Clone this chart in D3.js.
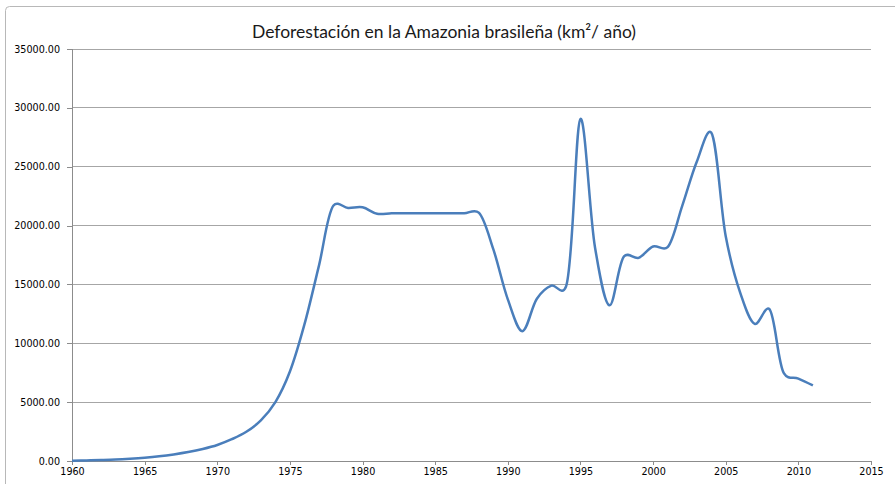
<!DOCTYPE html>
<html>
<head>
<meta charset="utf-8">
<script src="https://cdn.jsdelivr.net/npm/d3@7"></script>
<style>
  body { margin: 0; background: #fff; }
  svg { display: block; }
  .axis path, .axis line { stroke: #8c8c8c; shape-rendering: crispEdges; }
  .axis text { font-family: "DejaVu Sans", Verdana, sans-serif; font-size: 9.6px; fill: #000; }
  .grid line { stroke: #a6a6a6; shape-rendering: crispEdges; }
</style>
</head>
<body>
<svg id="chart" width="895" height="484"></svg>
<script>
// Deforestacion anual (km2)
const years = d3.range(1960, 2012);
const values = [
  30, 50, 80, 120, 190, 280, 400, 560, 760, 1020,
  1360, 1850, 2480, 3450, 5000, 7600, 11600, 16600, 21700, 21500,
  21550, 21000, 21050, 21050, 21050, 21050, 21050, 21050, 21100, 18000,
  13730, 11030, 13786, 14896, 14800, 29059, 18161, 13227, 17383, 17259,
  18226, 18165, 21651, 25396, 27900, 19100, 14286, 11651, 12911, 7464,
  7000, 6418
];
const xTicks = d3.range(1960, 2016, 5);
const yTicks = d3.range(0, 35001, 5000);
const title = 'Deforestación en la Amazonia brasileña (km²/ año)';

const data = years.map((y, i) => ({ year: y, value: values[i] }));

const svg = d3.select('#chart');
const margin = { top: 49, right: 24, bottom: 23, left: 72 };
const width = 895 - margin.left - margin.right;
const height = 484 - margin.top - margin.bottom;

// Rahmen
svg.append('rect')
    .attr('x', 5.5).attr('y', 6.5)
    .attr('width', 900).attr('height', 500)
    .attr('rx', 4)
    .attr('fill', 'none')
    .attr('stroke', '#b8b8b8');

// Titel
svg.append('text')
    .attr('x', 444)
    .attr('y', 38)
    .attr('text-anchor', 'middle')
    .style('font-family', 'Lato, "Open Sans", sans-serif')
    .style('font-size', '17.5px')
    .style('fill', '#1a1a1a')
    .text(title);

const g = svg.append('g')
    .attr('transform', `translate(${margin.left},${margin.top})`);

const xScale = d3.scaleLinear().domain([1960, 2015]).range([0, width]);
const yScale = d3.scaleLinear().domain([0, 35000]).range([height, 0]);

// Gitternetz
g.append('g')
    .attr('class', 'grid')
    .selectAll('line')
    .data(yTicks.slice(1))
    .enter()
    .append('line')
    .attr('x1', 0)
    .attr('x2', width)
    .attr('y1', d => yScale(d))
    .attr('y2', d => yScale(d));

// Achsen
g.append('g')
    .attr('class', 'axis y-axis')
    .call(d3.axisLeft(yScale).tickValues(yTicks).tickSize(5).tickPadding(7)
        .tickFormat(d3.format('.2f')))
    .call(a => a.select('.domain').attr('d', `M0,0V${height}`));

g.append('g')
    .attr('class', 'axis x-axis')
    .attr('transform', `translate(0,${height})`)
    .call(d3.axisBottom(xScale).tickValues(xTicks).tickSize(4).tickPadding(3)
        .tickFormat(d3.format('d')))
    .call(a => a.select('.domain').attr('d', `M0,0H${width}`));

// Linie
const line = d3.line()
    .x(d => xScale(d.year))
    .y(d => yScale(d.value))
    .curve(d3.curveCatmullRom.alpha(0.25));

g.append('path')
    .datum(data)
    .attr('fill', 'none')
    .attr('stroke', '#4a7ebb')
    .attr('stroke-width', 2.5)
    .attr('stroke-linejoin', 'round')
    .attr('d', line);
</script>
</body>
</html>
